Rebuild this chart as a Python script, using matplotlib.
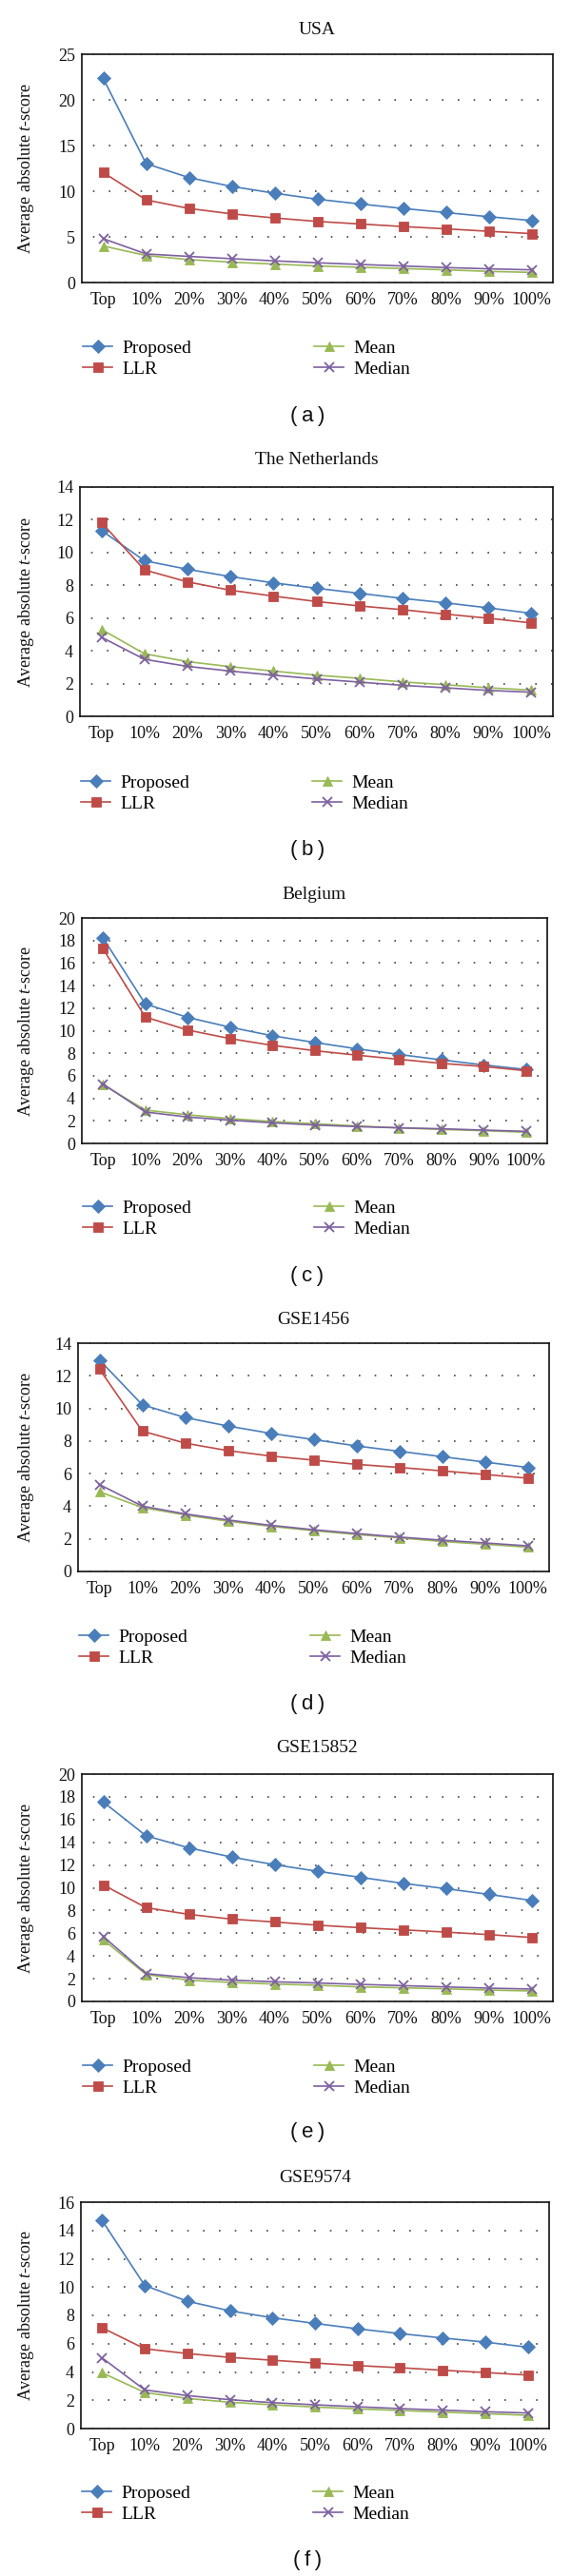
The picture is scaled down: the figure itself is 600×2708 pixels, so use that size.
import matplotlib
matplotlib.use("Agg")
import matplotlib.pyplot as plt

plt.rcParams['font.family'] = ['Liberation Serif', 'DejaVu Serif']
plt.rcParams['mathtext.fontset'] = 'custom'
plt.rcParams['mathtext.rm'] = 'Liberation Serif'
plt.rcParams['mathtext.it'] = 'Liberation Serif:italic'

categories = ["Top", "10%", "20%", "30%", "40%", "50%", "60%", "70%", "80%", "90%", "100%"]
series_names = ["Proposed", "LLR", "Mean", "Median"]
titles = ["USA", "The Netherlands", "Belgium", "GSE1456", "GSE15852", "GSE9574"]
sublabels = ["(\u2009a\u2009)", "(\u2009b\u2009)", "(\u2009c\u2009)", "(\u2009d\u2009)", "(\u2009e\u2009)", "(\u2009f\u2009)"]

usa_proposed = [22.35, 13.02, 11.49, 10.52, 9.78, 9.12, 8.60, 8.11, 7.66, 7.21, 6.79]
usa_llr = [12.05, 9.05, 8.11, 7.52, 7.07, 6.69, 6.41, 6.13, 5.88, 5.61, 5.36]
usa_mean = [4.00, 2.96, 2.51, 2.23, 2.02, 1.81, 1.67, 1.53, 1.39, 1.22, 1.11]
usa_median = [4.80, 3.13, 2.86, 2.61, 2.37, 2.16, 1.98, 1.81, 1.64, 1.50, 1.39]

nl_proposed = [11.35, 9.50, 8.98, 8.53, 8.15, 7.82, 7.51, 7.20, 6.93, 6.62, 6.29]
nl_llr = [11.84, 8.94, 8.21, 7.70, 7.34, 7.01, 6.74, 6.51, 6.24, 5.99, 5.70]
nl_mean = [5.31, 3.82, 3.34, 3.03, 2.76, 2.51, 2.32, 2.10, 1.93, 1.74, 1.60]
nl_median = [4.83, 3.48, 3.05, 2.76, 2.51, 2.28, 2.09, 1.89, 1.74, 1.58, 1.47]

be_proposed = [18.23, 12.37, 11.18, 10.31, 9.55, 8.96, 8.39, 7.89, 7.41, 6.96, 6.56]
be_llr = [17.27, 11.21, 10.06, 9.30, 8.70, 8.23, 7.83, 7.46, 7.10, 6.82, 6.45]
be_mean = [5.21, 2.96, 2.54, 2.20, 1.94, 1.75, 1.55, 1.38, 1.24, 1.13, 0.99]
be_median = [5.27, 2.79, 2.34, 2.06, 1.83, 1.63, 1.49, 1.38, 1.30, 1.18, 1.07]

g1456_proposed = [12.97, 10.22, 9.44, 8.92, 8.47, 8.09, 7.70, 7.37, 7.04, 6.71, 6.38]
g1456_llr = [12.41, 8.61, 7.87, 7.41, 7.08, 6.83, 6.57, 6.38, 6.17, 5.95, 5.72]
g1456_mean = [4.89, 3.92, 3.47, 3.08, 2.77, 2.50, 2.27, 2.06, 1.84, 1.67, 1.49]
g1456_median = [5.33, 4.01, 3.53, 3.16, 2.83, 2.56, 2.33, 2.11, 1.92, 1.75, 1.57]

g15852_proposed = [17.55, 14.57, 13.51, 12.70, 12.03, 11.45, 10.92, 10.39, 9.92, 9.42, 8.89]
g15852_llr = [10.25, 8.25, 7.66, 7.24, 6.99, 6.71, 6.49, 6.30, 6.10, 5.88, 5.63]
g15852_mean = [5.43, 2.37, 1.87, 1.67, 1.53, 1.42, 1.28, 1.20, 1.11, 1.00, 0.92]
g15852_median = [5.71, 2.45, 2.09, 1.87, 1.73, 1.62, 1.50, 1.39, 1.28, 1.17, 1.09]

g9574_proposed = [14.70, 10.11, 9.00, 8.32, 7.83, 7.43, 7.05, 6.71, 6.40, 6.11, 5.75]
g9574_llr = [7.12, 5.64, 5.30, 5.03, 4.83, 4.63, 4.45, 4.30, 4.12, 3.96, 3.78]
g9574_mean = [3.94, 2.55, 2.13, 1.86, 1.68, 1.52, 1.39, 1.28, 1.16, 1.05, 0.94]
g9574_median = [4.99, 2.73, 2.33, 2.04, 1.83, 1.68, 1.54, 1.41, 1.30, 1.19, 1.10]

panel_data = [
    [usa_proposed, usa_llr, usa_mean, usa_median],
    [nl_proposed, nl_llr, nl_mean, nl_median],
    [be_proposed, be_llr, be_mean, be_median],
    [g1456_proposed, g1456_llr, g1456_mean, g1456_median],
    [g15852_proposed, g15852_llr, g15852_mean, g15852_median],
    [g9574_proposed, g9574_llr, g9574_mean, g9574_median],
]
y_max = [25, 14, 20, 14, 20, 16]
y_step = [5, 2, 2, 2, 2, 2]

# layout in pixels: left, top, right, bottom, title_y, legend_center_y, sublabel_y
W, H = 600, 2708
layout = [
    (86, 57, 581, 297, 32, 377, 438),
    (84, 512, 581, 753, 483, 834, 893),
    (86, 965, 575, 1202, 940, 1281, 1342),
    (82, 1412, 577, 1652, 1387, 1732, 1792),
    (86, 1865, 581, 2104, 1838, 2184, 2242),
    (85, 2315, 577, 2553, 2290, 2632, 2692),
]

colors = ["#4A7EBB", "#BE4B48", "#98B954", "#7D60A0"]
markers = ["D", "s", "^", "x"]
msizes = [7.0, 7.8, 7.8, 7.8]

fig = plt.figure(figsize=(W / 100, H / 100), dpi=100)

x = list(range(len(categories)))
for i in range(6):
    l, t, r, b, ty, ly, sy = layout[i]
    ax = fig.add_axes([l / W, 1 - b / H, (r - l) / W, (b - t) / H])
    handles = []
    for s in range(4):
        h, = ax.plot(x, panel_data[i][s], color=colors[s], marker=markers[s],
                     markersize=msizes[s], markeredgecolor=colors[s],
                     markeredgewidth=1.3 if markers[s] == "x" else 0.6,
                     linewidth=1.2, label=series_names[s])
        handles.append(h)
    ax.set_xlim(-0.5, len(categories) - 0.5)
    ax.set_ylim(0, y_max[i])
    ax.set_yticks(range(0, y_max[i] + 1, y_step[i]))
    ax.set_xticks(x)
    ax.set_xticklabels(categories)
    ax.tick_params(axis='both', length=0, labelsize=13, colors='#111111')
    ax.tick_params(axis='y', pad=5)
    ax.tick_params(axis='x', pad=7)
    for sp in ax.spines.values():
        sp.set_linewidth(1.2)
        sp.set_color('#111111')
    ax.yaxis.grid(True, color='#444444', linestyle=(3, (1, 9)), linewidth=1.2)
    ax.set_axisbelow(True)
    ax.set_ylabel("Average absolute $t$-score", fontsize=13, color='#111111')
    ax.yaxis.set_label_coords((38 - l) / (r - l), 0.5)

    fig.text((l + r) / 2 / W, 1 - ty / H, titles[i], ha='center', va='center',
             fontsize=14, color='#111111')
    fig.text(323 / W, 1 - sy / H, sublabels[i], ha='center', va='center',
             fontsize=16, family=['Liberation Sans', 'DejaVu Sans'], color='#111111')

    leg1 = ax.legend(handles[:2], series_names[:2], loc='center left',
                     bbox_to_anchor=((l + 1) / W, 1 - ly / H), bbox_transform=fig.transFigure,
                     frameon=False, fontsize=14, borderpad=0, borderaxespad=0,
                     handlelength=1.6, handletextpad=0.55, labelspacing=0.2)
    ax.add_artist(leg1)
    ax.legend(handles[2:], series_names[2:], loc='center left',
              bbox_to_anchor=((l + 244) / W, 1 - ly / H), bbox_transform=fig.transFigure,
              frameon=False, fontsize=14, borderpad=0, borderaxespad=0,
              handlelength=1.6, handletextpad=0.55, labelspacing=0.2)

fig.savefig("out.png", dpi=100, facecolor='white')
